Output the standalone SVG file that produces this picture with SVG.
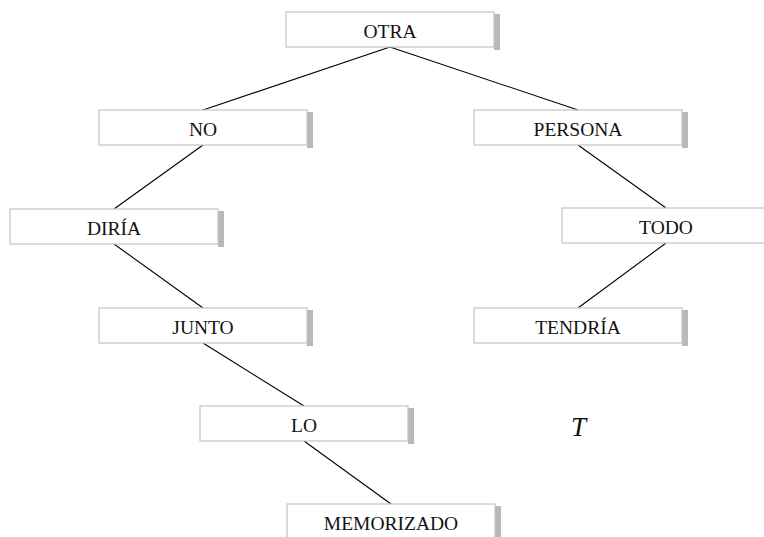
<svg xmlns="http://www.w3.org/2000/svg" width="764" height="537" viewBox="0 0 764 537">
<style>
.box{fill:#ffffff;stroke:#c4c4c4;stroke-width:1.2}
.sh{fill:#b8b8b8}
.lbl{font-family:"Liberation Serif","Times New Roman",serif;font-size:19.5px;fill:#111;text-anchor:middle}
.edge{stroke:#000;stroke-width:1.1;fill:none}
</style>
<rect width="764" height="537" fill="#ffffff"/>
<g id="connectors">
<line class="edge" x1="390" y1="47" x2="203" y2="110"/>
<line class="edge" x1="390" y1="47" x2="578" y2="110"/>
<line class="edge" x1="203" y1="145" x2="114" y2="209"/>
<line class="edge" x1="114" y1="244" x2="203" y2="308"/>
<line class="edge" x1="203" y1="343" x2="304" y2="406"/>
<line class="edge" x1="304" y1="441" x2="391" y2="504"/>
<line class="edge" x1="578" y1="145" x2="666" y2="208"/>
<line class="edge" x1="666" y1="243" x2="578" y2="308"/>
</g>
<g id="n-otra"><rect class="sh" x="494" y="14" width="6" height="36"/><rect class="box" x="286" y="12" width="208" height="35"/><text class="lbl" x="390" y="38">OTRA</text></g>
<g id="n-no"><rect class="sh" x="307" y="112" width="6" height="36"/><rect class="box" x="99" y="110" width="208" height="35"/><text class="lbl" x="203" y="136">NO</text></g>
<g id="n-persona"><rect class="sh" x="682" y="112" width="6" height="36"/><rect class="box" x="474" y="110" width="208" height="35"/><text class="lbl" x="578" y="136">PERSONA</text></g>
<g id="n-diria"><rect class="sh" x="218" y="211" width="6" height="36"/><rect class="box" x="10" y="209" width="208" height="35"/><text class="lbl" x="114" y="235">DIRÍA</text></g>
<g id="n-todo"><rect class="sh" x="770" y="210" width="6" height="36"/><rect class="box" x="562" y="208" width="208" height="35"/><text class="lbl" x="666" y="234">TODO</text></g>
<g id="n-junto"><rect class="sh" x="307" y="310" width="6" height="36"/><rect class="box" x="99" y="308" width="208" height="35"/><text class="lbl" x="203" y="334">JUNTO</text></g>
<g id="n-tendria"><rect class="sh" x="682" y="310" width="6" height="36"/><rect class="box" x="474" y="308" width="208" height="35"/><text class="lbl" x="578" y="334">TENDRÍA</text></g>
<g id="n-lo"><rect class="sh" x="408" y="408" width="6" height="36"/><rect class="box" x="200" y="406" width="208" height="35"/><text class="lbl" x="304" y="432">LO</text></g>
<g id="n-memorizado"><rect class="sh" x="495" y="506" width="6" height="36"/><rect class="box" x="287" y="504" width="208" height="35"/><text class="lbl" x="391" y="530">MEMORIZADO</text></g>
<text x="571" y="436" style="font-family:'Liberation Serif','Times New Roman',serif;font-size:27px;font-style:italic;fill:#111">T</text>
</svg>
